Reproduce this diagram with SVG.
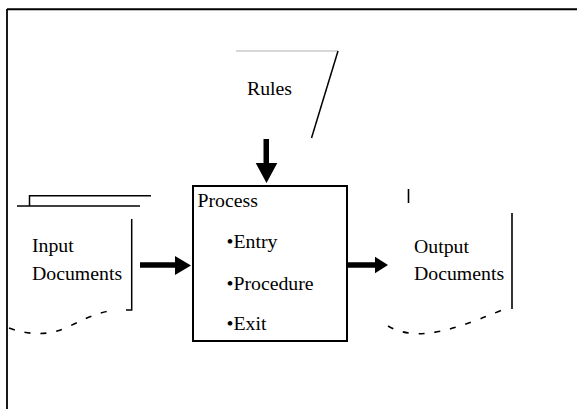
<svg xmlns="http://www.w3.org/2000/svg" width="577" height="409" viewBox="0 0 577 409">
<style>
text{font-family:"Liberation Serif","Times New Roman",serif;font-size:19.8px;fill:#000}
.ln{stroke:#000;fill:none}
.dash{stroke:#000;fill:none;stroke-width:1.6;stroke-dasharray:6 10}
.arr{fill:#000;stroke:none}
</style>
<rect width="577" height="409" fill="#fff"/>
<g id="frame">
<line class="ln" x1="7" y1="9.3" x2="577" y2="9.3" stroke-width="2"/>
<line class="ln" x1="7" y1="9" x2="7" y2="409" stroke-width="1.8"/>
</g>
<g id="rules">
<line x1="236" y1="51" x2="338" y2="51" stroke="#b0b0b0" stroke-width="1.2"/>
<line class="ln" x1="338" y1="51" x2="311.5" y2="138" stroke-width="1.5"/>
<text x="247" y="95">Rules</text>
</g>
<g id="input">
<polyline class="ln" points="151,195.7 29.5,195.7 29.5,206" stroke-width="1.5"/>
<line class="ln" x1="17" y1="206" x2="140" y2="206" stroke-width="1.5"/>
<polyline class="ln" points="131.7,219 131.7,310 126,310" stroke-width="1.5"/>
<path class="dash" d="M9,328 Q42,340 70,326 T110,311"/>
<text x="32" y="251.5">Input</text>
<text x="32" y="280">Documents</text>
</g>
<g id="process">
<rect class="ln" x="193" y="186" width="154" height="155" stroke-width="2"/>
<text x="197.5" y="207">Process</text>
<text x="226.5" y="248">•Entry</text>
<text x="226.5" y="290">•Procedure</text>
<text x="226.5" y="330">•Exit</text>
</g>
<g id="output">
<line class="ln" x1="408.5" y1="189" x2="408.5" y2="203" stroke-width="1.6"/>
<line class="ln" x1="512" y1="213" x2="512" y2="309" stroke-width="1.6"/>
<path class="dash" d="M388,326 Q405,336 430,333 T502,310"/>
<text x="414" y="253">Output</text>
<text x="414" y="280">Documents</text>
</g>
<g id="connectors">
<path class="arr" d="M263.5,139 H269 V163 H277.3 L266.5,183 L255.7,163 H263.5 Z"/>
<path class="arr" d="M140,262.3 H175 V256 L191,265.5 L175,275 V267.7 H140 Z"/>
<path class="arr" d="M348,262.3 H375 V256.7 L388,265 L375,273.3 V267.7 H348 Z"/>
</g>
</svg>
